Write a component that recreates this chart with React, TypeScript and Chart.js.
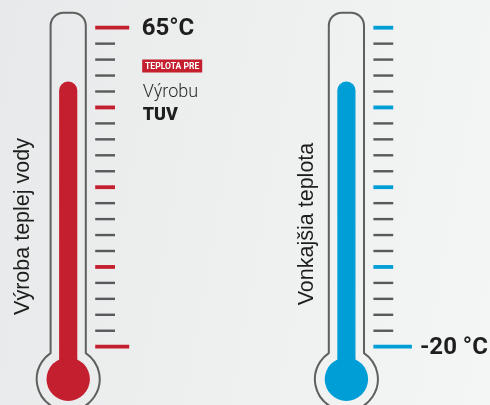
import React, { useEffect, useRef } from "react";
import { Chart, registerables } from "chart.js";

Chart.register(...registerables);

// ---- data ----
const categories = ["Výroba teplej vody", "Vonkajšia teplota"];
const fillLevels = [16.6, 16.6];
const fillBase = -2;
const scaleMin = 0;
const scaleMax = 20;
const tickStep = 1;
const majorEvery = 5;
const longTickLevels = [[0, 20], [0]];
const endLabels = ["65°C", "-20 °C"];
const endLabelLevels = [20, 0];
const badgeText = "TEPLOTA PRE";
const noteLines = ["Výrobu", "TUV"];

// ---- styles ----
const fillColors = ["#c41f2f", "#009ed6"];
const outlineColor = "#5e6060";
const tickGray = "#58595a";
const textColor = "#1e1e1e";
const FONT = "Roboto, 'Liberation Sans', Arial, sans-serif";
const LABEL_FONT = "'Liberation Sans', Arial, sans-serif";

const thermoPlugin = {
  id: "thermo",
  beforeDatasetsDraw(chart: any) {
    const ctx = chart.ctx;
    const y = chart.scales.y;
    const meta = chart.getDatasetMeta(0);
    const top = y.getPixelForValue(scaleMax);
    const zero = y.getPixelForValue(scaleMin);
    meta.data.forEach((el: any) => {
      const cx = el.x;
      const half = 17.6;
      const r = 13;
      const tubeTop = top - 15;
      const bulbCy = zero + 32.5;
      const bulbR = 31.5;
      const dy = Math.sqrt(bulbR * bulbR - half * half);
      const junction = bulbCy - dy;
      ctx.save();
      ctx.beginPath();
      ctx.moveTo(cx - half, junction);
      ctx.lineTo(cx - half, tubeTop + r);
      ctx.arcTo(cx - half, tubeTop, cx - half + r, tubeTop, r);
      ctx.lineTo(cx + half - r, tubeTop);
      ctx.arcTo(cx + half, tubeTop, cx + half, tubeTop + r, r);
      ctx.lineTo(cx + half, junction);
      const a0 = Math.atan2(junction - bulbCy, half);
      const a1 = Math.atan2(junction - bulbCy, -half);
      ctx.arc(cx, bulbCy, bulbR, a0, a1, false);
      ctx.closePath();
      ctx.lineWidth = 2;
      ctx.strokeStyle = outlineColor;
      ctx.stroke();
      ctx.restore();
    });
  },
  afterDatasetsDraw(chart: any) {
    const ctx = chart.ctx;
    const y = chart.scales.y;
    const meta = chart.getDatasetMeta(0);
    const zero = y.getPixelForValue(scaleMin);
    meta.data.forEach((el: any, i: number) => {
      const cx = el.x;
      // bulb
      ctx.save();
      ctx.beginPath();
      ctx.arc(cx, zero + 32.5, 21.7, 0, Math.PI * 2);
      ctx.fillStyle = fillColors[i];
      ctx.fill();
      // ticks
      const longEnd = i === 0 ? 61 : 65.5;
      for (let v = scaleMin; v <= scaleMax; v += tickStep) {
        const py = y.getPixelForValue(v);
        const major = (v - scaleMin) % majorEvery === 0;
        const isLong = longTickLevels[i].includes(v);
        ctx.beginPath();
        ctx.moveTo(cx + 27, py);
        ctx.lineTo(cx + (isLong ? longEnd : 46.8), py);
        ctx.lineWidth = major ? 3.8 : 2.4;
        ctx.strokeStyle = major ? fillColors[i] : tickGray;
        ctx.stroke();
      }
      // end label
      ctx.font = `bold 24px ${FONT}`;
      ctx.fillStyle = textColor;
      ctx.textAlign = "left";
      ctx.textBaseline = "middle";
      ctx.fillText(endLabels[i], cx + 73.5, y.getPixelForValue(endLabelLevels[i]) + 1);
      // rotated category label
      ctx.translate(i === 0 ? 23.5 : 307.5, i === 0 ? 226.5 : 224);
      ctx.rotate(-Math.PI / 2);
      ctx.font = `21.5px ${LABEL_FONT}`;
      ctx.textAlign = "center";
      ctx.textBaseline = "middle";
      ctx.fillText(categories[i], 0, 0);
      ctx.restore();
    });
    // note block next to first thermometer
    const cx0 = meta.data[0].x;
    const bx = cx0 + 74;
    ctx.save();
    ctx.fillStyle = fillColors[0];
    ctx.fillRect(bx, 59.5, 60, 13);
    ctx.font = `bold 8.6px ${FONT}`;
    ctx.fillStyle = "#ffffff";
    ctx.textAlign = "center";
    ctx.textBaseline = "middle";
    ctx.fillText(badgeText, bx + 30, 66.5);
    ctx.textAlign = "left";
    ctx.textBaseline = "alphabetic";
    ctx.font = `300 18px ${FONT}`;
    ctx.fillStyle = "#2a2a2a";
    ctx.fillText(noteLines[0], bx + 0.5, 96.5);
    ctx.font = `900 18px ${FONT}`;
    ctx.fillStyle = textColor;
    ctx.fillText(noteLines[1], bx + 0.5, 120);
    ctx.restore();
  },
};

export default function App() {
  const ref = useRef<HTMLCanvasElement | null>(null);
  useEffect(() => {
    if (!ref.current) return;
    const chart = new Chart(ref.current, {
      type: "bar",
      data: {
        labels: categories,
        datasets: [
          {
            data: fillLevels.map((v) => [fillBase, v]) as any,
            backgroundColor: fillColors,
            barThickness: 17.5,
            borderRadius: { topLeft: 8.75, topRight: 8.75, bottomLeft: 0, bottomRight: 0 },
            borderSkipped: false,
            clip: false as any,
          },
        ],
      },
      options: {
        responsive: false,
        animation: false,
        devicePixelRatio: 1,
        layout: { padding: { left: 68.2, right: 490 - 346.4, top: 27.7, bottom: 405 - 346.7 } },
        plugins: { legend: { display: false }, tooltip: { enabled: false } },
        scales: {
          x: { type: "category", offset: false, display: false },
          y: { type: "linear", min: scaleMin, max: scaleMax, ticks: { stepSize: tickStep }, display: false },
        },
      },
      plugins: [thermoPlugin],
    });
    return () => chart.destroy();
  }, []);
  return (
    <div
      style={{
        position: "absolute",
        left: 0,
        top: 0,
        width: 490,
        height: 405,
        background: "linear-gradient(100deg, #e8e9ea 0%, #eeefef 50%, #f4f5f5 100%)",
      }}
    >
      <canvas ref={ref} width={490} height={405} style={{ display: "block" }} />
    </div>
  );
}
